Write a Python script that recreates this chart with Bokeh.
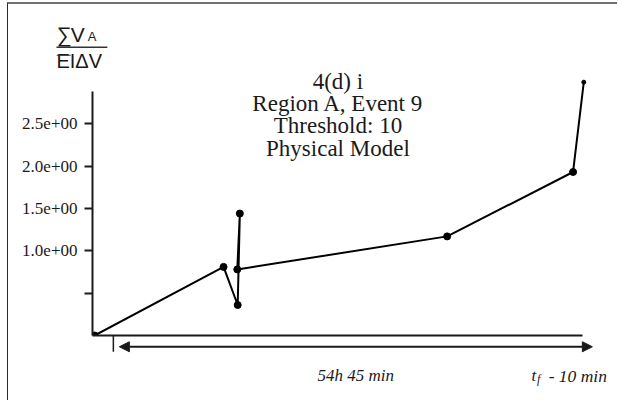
from bokeh.plotting import figure
from bokeh.layouts import column
from bokeh.models import Arrow, NormalHead, FixedTicker, Range1d
from bokeh.core.properties import value
from bokeh.embed import file_html
from bokeh.resources import INLINE

try:
    from bokeh.models import GlobalInlineStyleSheet
except ImportError:
    GlobalInlineStyleSheet = None

# Time (hours after the start mark) and the summed-volume ratio
hours = [-2.2, 12.85, 14.5, 14.75, 14.45, 38.95, 53.65, 54.9]
ratio = [0.0, 0.81, 0.36, 1.44, 0.78, 1.17, 1.93, 2.99]

# Y ticks and their printed labels
y_ticks = [0.5, 1.0, 1.5, 2.0, 2.5]
y_tick_labels = ["", "1.0e+00", "1.5e+00", "2.0e+00", "2.5e+00"]

title_lines = ["4(d) i", "Region A, Event 9", "Threshold: 10", "Physical Model"]
span_label = "54h 45 min"
span_start, span_end = 0.0, 54.75      # hours covered by the marked span

SERIF = value("Liberation Serif")
SANS = value("Liberation Sans")
INK = "#1a1a1a"

# canvas and frame geometry
W, H = 610, 398
LB, RB, TB, BB = 84, 8, 53, 65
FW, FH = W - LB - RB, H - TB - BB
X0, X1 = -2.45, -2.45 + FW / 8.583
Y0, Y1 = 0.0, FH / 85.33

p = figure(
    width=W, height=H, output_backend="svg", toolbar_location=None,
    x_range=Range1d(X0, X1), y_range=Range1d(Y0, Y1),
    min_border_left=LB, min_border_right=RB,
    min_border_top=TB, min_border_bottom=BB,
)
p.outline_line_color = None
p.grid.visible = False
p.background_fill_color = "white"
p.border_fill_color = "white"

# y axis: line up to 2.88, outward ticks, serif labels
ya = p.yaxis[0]
ya.ticker = FixedTicker(ticks=y_ticks)
ya.major_label_overrides = {t: s for t, s in zip(y_ticks, y_tick_labels)}
ya.bounds = (0, 2.88)
ya.axis_line_width = 2
ya.axis_line_color = INK
ya.major_tick_line_width = 2
ya.major_tick_line_color = INK
ya.major_tick_out = 8
ya.major_tick_in = 0
ya.minor_tick_line_color = None
ya.major_label_text_font = "Liberation Serif"
ya.major_label_text_font_size = "17px"
ya.major_label_text_color = INK
ya.major_label_standoff = 7

# x axis: bare line
xa = p.xaxis[0]
xa.ticker = FixedTicker(ticks=[])
xa.bounds = (X0, span_end)
xa.axis_line_width = 2
xa.axis_line_color = INK
xa.major_tick_out = 0
xa.major_tick_in = 0
xa.minor_tick_line_color = None
xa.major_label_text_font_size = "0px"

# the series
p.line(hours, ratio, line_color="black", line_width=2)
p.scatter(hours[:-1], ratio[:-1], size=7, color="black")
p.scatter(hours[-1:], ratio[-1:], size=4, color="black")

# title block
p.text(x=[26.2] * len(title_lines),
       y=[3.0 - i * 0.263 for i in range(len(title_lines))],
       text=title_lines, text_align="center", text_baseline="alphabetic",
       text_font=SERIF, text_font_size="23px", text_color=INK)

# Transparent sheet laid over the whole canvas, sharing the plot's data
# coordinates, for the axis caption and the time-span marker that sit
# outside the plot frame.
sx = (X1 - X0) / FW
sy = (Y1 - Y0) / FH
ov = figure(
    width=W, height=H, output_backend="svg", toolbar_location=None,
    x_range=Range1d(X0 - LB * sx, X1 + RB * sx),
    y_range=Range1d(Y0 - BB * sy, Y1 + TB * sy),
    x_axis_type=None, y_axis_type=None, min_border=0,
    min_border_left=0, min_border_right=0,
    min_border_top=0, min_border_bottom=0,
)
for fig in (p, ov):
    if "frame_align" in fig.properties():
        fig.frame_align = False
ov.outline_line_color = None
ov.background_fill_color = None
ov.border_fill_color = None
ov.styles = {"position": "absolute", "left": "0px", "top": "0px"}

# y caption: sum V_A over EI dV
ov.text(x=[-6.64, -4.98], y=[3.545, 3.545], text=["\u2211", "V"],
        text_font=SANS, text_font_size="21px", text_color=INK,
        text_baseline="alphabetic")
ov.text(x=[-3.0], y=[3.52], text=["A"], text_font=SANS,
        text_font_size="13px", text_color=INK, text_baseline="alphabetic")
ov.segment(x0=[-6.64], y0=[3.399], x1=[-0.70], y1=[3.399],
           line_width=1.3, line_color="#333")
ov.text(x=[-6.64], y=[3.234], text=["EI\u0394V"], text_font=SANS,
        text_font_size="20px", text_color=INK, text_baseline="alphabetic")
ov.segment(x0=[-6.6], y0=[3.305], x1=[-4.99], y1=[3.305],
           line_width=1.2, line_color="#333")

# time-span marker below the axis
ov.segment(x0=[span_start], y0=[0.0], x1=[span_start], y1=[-0.1875],
           line_width=1.5, line_color=INK)
ov.add_layout(Arrow(
    x_start=span_start + 0.7, y_start=-0.129, x_end=span_end + 1.15, y_end=-0.129,
    start=NormalHead(size=10, fill_color=INK, line_color=INK),
    end=NormalHead(size=10, fill_color=INK, line_color=INK),
    line_width=2, line_color=INK))
ov.text(x=[(span_start + span_end) / 2 + 0.9], y=[-0.469], text=[span_label],
        text_align="center", text_baseline="alphabetic", text_font=SERIF,
        text_font_style="italic", text_font_size="17px", text_color=INK)
ov.text(x=[48.81], y=[-0.469], text=["t"], text_baseline="alphabetic",
        text_font=SERIF, text_font_style="italic", text_font_size="17px",
        text_color=INK)
ov.text(x=[49.45], y=[-0.504], text=["f"], text_baseline="alphabetic",
        text_font=SERIF, text_font_style="italic", text_font_size="12px",
        text_color=INK)
ov.text(x=[50.8], y=[-0.469], text=["- 10 min"], text_baseline="alphabetic",
        text_font=SERIF, text_font_style="italic", text_font_size="17.5px",
        text_color=INK)

layout = column(p, ov)
layout.styles = {
    "position": "relative", "margin-left": "7px", "margin-top": "2px",
    "width": f"{W}px", "height": f"{H}px", "overflow": "hidden",
    "border-left": "1px solid #2a2a2a", "border-top": "2px solid #707070",
}
if GlobalInlineStyleSheet is not None:
    layout.stylesheets = [GlobalInlineStyleSheet(
        css="html, body { overflow: hidden; margin: 0; }")]

open("out.html", "w").write(file_html(layout, INLINE))
